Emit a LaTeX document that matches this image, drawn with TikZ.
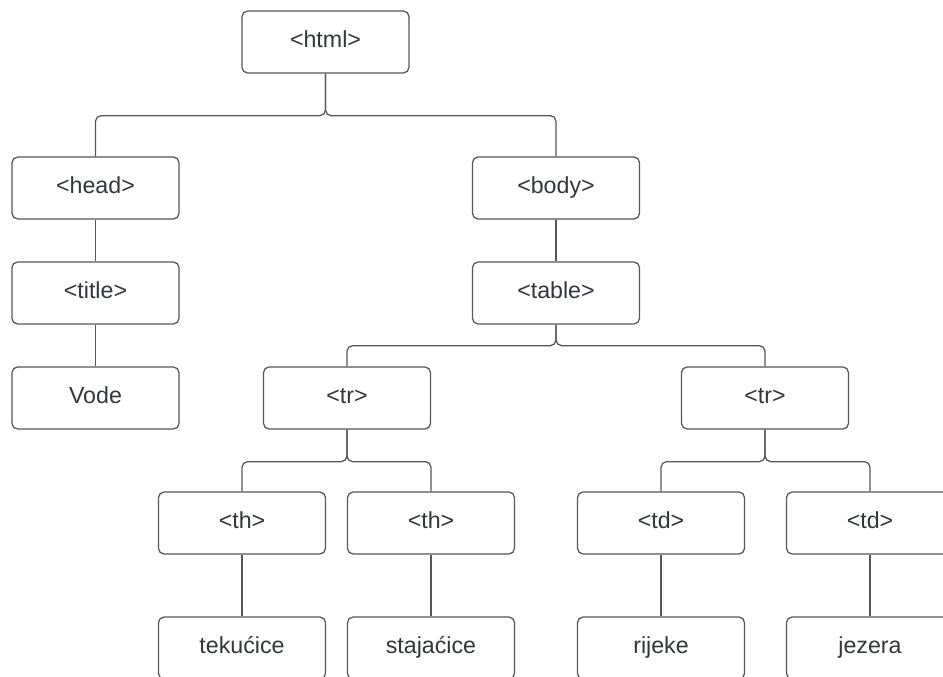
\documentclass[tikz,border=0pt]{standalone}
\usepackage{fontspec}
\setmainfont{Liberation Sans}
\definecolor{edge}{HTML}{54575E}
\definecolor{ink}{HTML}{33363C}
\begin{document}
\begin{tikzpicture}[x=0.025cm,y=-0.025cm,
  tag/.style={draw=edge,line width=0.9pt,rounded corners=4pt,fill=white,
    minimum width=4.175cm,minimum height=1.55cm,inner sep=0pt,
    text height=1.8ex,text depth=0.2ex,
    text=ink,font=\fontsize{16.5}{19}\selectfont},
  link/.style={draw=edge,line width=0.9pt,rounded corners=4pt}]
\clip (0,0) rectangle (943,677);

\node[tag](html) at (325.5,42) {<html>};

\node[tag](head) at (95.5,188) {<head>};
\node[tag](title) at (95.5,293) {<title>};
\node[tag](vode) at (95.5,398) {Vode};

\node[tag](body) at (556,188) {<body>};
\node[tag](table) at (556,293) {<table>};

\node[tag](tr1) at (347,398) {<tr>};
\node[tag](tr2) at (765,398) {<tr>};

\node[tag](th1) at (242,523) {<th>};
\node[tag](th2) at (431,523) {<th>};
\node[tag](td1) at (661,523) {<td>};
\node[tag](td2) at (870,523) {<td>};

\node[tag](tek) at (242,648) {tekućice};
\node[tag](sta) at (431,648) {stajaćice};
\node[tag](rij) at (661,648) {rijeke};
\node[tag](jez) at (870,648) {jezera};

\draw[link] (html.south) -- ++(0,42) -| (head.north);
\draw[link] (html.south) -- ++(0,42) -| (body.north);
\draw[link] (head) -- (title) -- (vode);
\draw[link] (body) -- (table);

\draw[link] (table.south) -- ++(0,21) -| (tr1.north);
\draw[link] (table.south) -- ++(0,21) -| (tr2.north);

\draw[link] (tr1.south) -- ++(0,32) -| (th1.north);
\draw[link] (tr1.south) -- ++(0,32) -| (th2.north);
\draw[link] (tr2.south) -- ++(0,32) -| (td1.north);
\draw[link] (tr2.south) -- ++(0,32) -| (td2.north);

\draw[link] (th1) -- (tek);
\draw[link] (th2) -- (sta);
\draw[link] (td1) -- (rij);
\draw[link] (td2) -- (jez);

\end{tikzpicture}
\end{document}
